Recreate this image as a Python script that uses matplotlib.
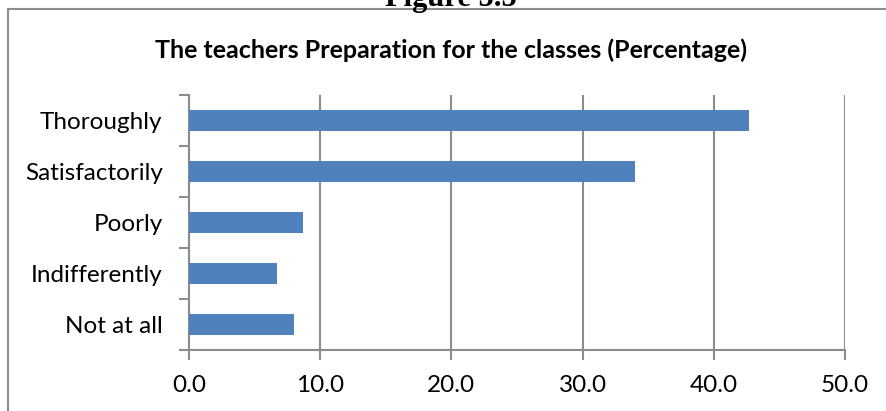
#!/usr/bin/env python3
import matplotlib
matplotlib.use("Agg")
import matplotlib.pyplot as plt
from matplotlib.lines import Line2D
import numpy as np

categories = ["Not at all", "Indifferently", "Poorly", "Satisfactorily", "Thoroughly"]
percentages = [8.0, 6.7, 8.7, 34.0, 42.7]
x_ticks = [0, 10, 20, 30, 40, 50]

plt.rcParams['font.family'] = ['Lato', 'DejaVu Sans']
GRID = "#8c8c8c"

fig = plt.figure(figsize=(8.86, 4.11), dpi=100)
ax = fig.add_axes([189 / 886, 1 - 350 / 411, (845 - 189) / 886, (350 - 95) / 411])

y = np.arange(len(categories))
ax.barh(y, percentages, height=0.4, color="#4f81bd", zorder=3)

ax.set_xlim(0, 50)
ax.set_ylim(-0.5, len(categories) - 0.5)
ax.set_xticks(x_ticks, [f"{v:.1f}" for v in x_ticks])
ax.set_yticks(y, categories)
ax.set_yticks(np.arange(-0.5, len(categories)), minor=True)
ax.tick_params(axis="y", which="major", length=0, pad=19, labelsize=17.5)
ax.tick_params(axis="y", which="minor", length=7, width=1.5, color=GRID)
ax.tick_params(axis="x", length=7, width=1.5, color=GRID, pad=11, labelsize=17.5)

ax.grid(axis="x", color=GRID, linewidth=1.5, zorder=0)
for s in ["top", "right"]:
    ax.spines[s].set_visible(False)
for s in ["left", "bottom"]:
    ax.spines[s].set_color(GRID)
    ax.spines[s].set_linewidth(1.5)

fig.text(451 / 886, 1 - 50 / 411, "The teachers Preparation for the classes (Percentage)",
         ha="center", va="center", fontsize=18, fontweight="bold")

# cut-off caption above the chart box
fig.text(451 / 886, 1 - 6 / 411, "Figure 5.5", ha="center", va="baseline",
         fontsize=22, fontweight="bold", family=["Liberation Serif"])

# chart box (top and left edges visible)
fig.add_artist(Line2D([8 / 886, 1], [1 - 9 / 411, 1 - 9 / 411], color=GRID, linewidth=1.5))
fig.add_artist(Line2D([8 / 886, 8 / 886], [0, 1 - 9 / 411], color=GRID, linewidth=1.5))

fig.savefig("out.png", dpi=100)
